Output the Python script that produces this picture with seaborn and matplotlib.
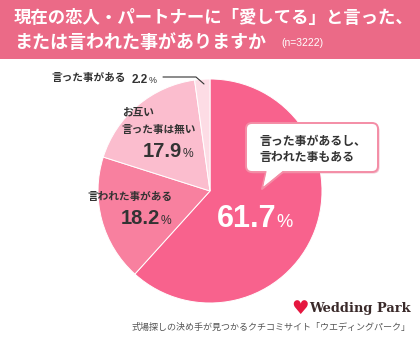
import matplotlib
matplotlib.use("Agg")
import matplotlib.pyplot as plt
import seaborn as sns
from matplotlib.patches import FancyBboxPatch, Polygon, Rectangle

# ---- data ----
categories = ["言った事があるし、\n言われた事もある", "言われた事がある", "お互い\n言った事は無い", "言った事がある"]
values = [61.7, 18.2, 17.9, 2.2]
colors = ["#F8628D", "#F8809F", "#FBBDCE", "#FDDCE5"]
title_line1 = "現在の恋人・パートナーに「愛してる」と言った、"
title_line2 = "または言われた事がありますか"
n_note = "(n=3222)"
footer = "式場探しの決め手が見つかるクチコミサイト「ウエディングパーク」"

sns.set_theme(style="white")
JP = ["Noto Sans CJK JP", "DejaVu Sans"]
NUM = ["Liberation Sans", "DejaVu Sans"]
plt.rcParams["font.family"] = JP

W, H = 420, 340
fig = plt.figure(figsize=(W / 100, H / 100), dpi=100)
fig.patch.set_facecolor("white")

# pie axes
cx, cy, r = 210, 191, 112
ax = fig.add_axes([(cx - r) / W, (H - cy - r) / H, 2 * r / W, 2 * r / H])
ax.pie(values, colors=colors, startangle=90, counterclock=False, radius=1,
       wedgeprops=dict(edgecolor="white", linewidth=0.7))
ax.set_xlim(-1, 1)
ax.set_ylim(-1, 1)
ax.axis("off")

# overlay in pixel coordinates
ov = fig.add_axes([0, 0, 1, 1], facecolor="none")
ov.set_xlim(0, W)
ov.set_ylim(H, 0)
ov.axis("off")

# header band
ov.add_patch(Rectangle((0, 0), W, 59, fc="#EB6A87", ec="none"))
ov.text(14, 18, title_line1, color="white", fontsize=12.5, fontweight="bold",
        ha="left", va="center", family=JP)
ov.text(14, 42, title_line2, color="white", fontsize=13.0, fontweight="bold",
        ha="left", va="center", family=JP)
ov.text(281, 43, n_note, color="white", fontsize=7.5, ha="left", va="center", family=NUM)

dark = "#333333"

def pct(x, y, num, size, color=dark, psize=0.6):
    ov.text(x, y, num, fontsize=size, fontweight="bold", color=color,
            ha="right", va="baseline", family=NUM)
    ov.text(x + 0.5, y, "%", fontsize=size * psize, color=color,
            ha="left", va="baseline", family=NUM)

# 2.2%
ov.text(52, 78, categories[3], fontsize=7.7, fontweight="bold", color=dark,
        ha="left", va="center", family=JP)
pct(148, 83, f"{values[3]:.1f}", 8.5, psize=0.75)
ov.plot([163, 196, 204], [77, 77, 84], color=dark, lw=0.8)

# 17.9%
lines = categories[2].split("\n")
ov.text(122, 113, lines[0], fontsize=7.7, fontweight="bold", color=dark,
        ha="left", va="center", family=JP)
ov.text(122, 130, lines[1], fontsize=7.7, fontweight="bold", color=dark,
        ha="left", va="center", family=JP)
pct(182, 157, f"{values[2]:.1f}", 14.5)

# 18.2%
ov.text(87, 197, categories[1], fontsize=7.7, fontweight="bold", color=dark,
        ha="left", va="center", family=JP)
pct(160, 224, f"{values[1]:.1f}", 14.5)

# 61.7%
pct(276, 227, f"{values[0]:.1f}", 22, color="white")

# callout
bx, by, bw, bh = 246, 123, 132, 49
ov.add_patch(FancyBboxPatch((bx + 1.5, by + 1.5), bw, bh,
                            boxstyle="round,pad=0,rounding_size=6",
                            fc="#E58FA6", ec="none", alpha=0.5, zorder=3))
ov.add_patch(FancyBboxPatch((bx, by), bw, bh,
                            boxstyle="round,pad=0,rounding_size=6",
                            fc="white", ec="#F48DA6", lw=1.4, zorder=4))
ov.add_patch(Polygon([(266, bh + by - 1), (262, 189), (283, bh + by - 1)],
                     closed=True, fc="white", ec="none", zorder=5))
ov.plot([266, 262, 283], [by + bh, 189, by + bh], color="#F48DA6", lw=1.4, zorder=5)
ov.add_patch(Polygon([(266.8, by + bh - 1.2), (263.5, 186), (282, by + bh - 1.2)],
                     closed=True, fc="white", ec="none", zorder=6))
cl = categories[0].split("\n")
ov.text(259, 141, cl[0], fontsize=8.6, fontweight="bold", color=dark,
        ha="left", va="center", family=JP, zorder=7)
ov.text(259, 157, cl[1], fontsize=8.6, fontweight="bold", color=dark,
        ha="left", va="center", family=JP, zorder=7)

# footer logo
ov.text(300, 308, "♥", fontsize=14, color="#E5173F", ha="center", va="center",
        family=["DejaVu Sans"])
ov.text(309, 312, "Wedding Park", fontsize=9.4, fontweight="bold", color="#3A2A2A",
        ha="left", va="baseline", family=["DejaVu Serif"])
ov.text(410, 327, footer, fontsize=6.5, color="#555555", ha="right", va="center",
        family=JP)

fig.savefig("out.png", dpi=100, facecolor="white")
